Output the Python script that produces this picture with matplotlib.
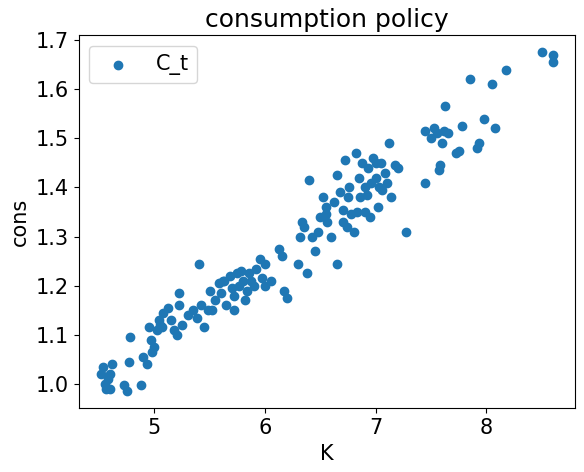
import matplotlib
matplotlib.use("Agg")
import matplotlib.pyplot as plt

# capital stock K and consumption C_t
K = [4.52, 4.53, 4.55, 4.56, 4.58, 4.60, 4.62, 4.60, 4.72, 4.75, 4.77, 4.78, 4.88, 4.90,
     4.93, 4.95, 4.97, 4.98, 5.00, 5.02, 5.04, 5.05, 5.07, 5.08, 5.12, 5.15, 5.18, 5.20,
     5.22, 5.22, 5.25, 5.30, 5.35, 5.38, 5.40, 5.42, 5.45, 5.48, 5.52, 5.55, 5.58, 5.60,
     5.63, 5.65, 5.68, 5.70, 5.72, 5.72, 5.75, 5.76, 5.78, 5.80, 5.82, 5.84, 5.87, 5.90,
     5.92, 5.95, 5.97, 6.00, 6.00, 6.13, 6.15, 6.17, 6.20, 6.30, 6.32, 6.33, 6.35, 6.38,
     6.40, 6.42, 6.45, 6.48, 6.50, 6.52, 6.55, 6.56, 6.60, 6.62, 6.65, 6.65, 6.68, 6.70,
     6.72, 6.74, 6.76, 6.78, 6.80, 6.82, 6.83, 6.85, 6.86, 6.88, 6.90, 6.92, 6.93, 6.95,
     6.96, 6.98, 7.00, 7.02, 7.03, 7.05, 7.06, 7.08, 7.10, 7.12, 7.14, 7.17, 7.20, 7.27,
     7.45, 7.45, 7.50, 7.53, 7.55, 7.57, 7.58, 7.60, 7.62, 7.63, 7.65, 7.73, 7.75, 7.78,
     7.85, 7.92, 7.93, 7.98, 8.05, 8.08, 8.18, 8.50, 8.60, 8.60,
     5.62, 5.50, 6.70, 6.75, 7.00, 5.85, 6.05, 6.55, 6.90]
cons = [1.020, 1.035, 1.000, 0.990, 1.010, 1.020, 1.040, 0.990, 0.998, 0.985, 1.045, 1.095,
        0.998, 1.055, 1.040, 1.115, 1.090, 1.065, 1.075, 1.110, 1.130, 1.120, 1.115, 1.145,
        1.155, 1.130, 1.110, 1.100, 1.160, 1.185, 1.120, 1.140, 1.150, 1.135, 1.245, 1.160,
        1.115, 1.150, 1.150, 1.170, 1.205, 1.185, 1.210, 1.160, 1.220, 1.195, 1.180, 1.150,
        1.225, 1.200, 1.230, 1.210, 1.170, 1.190, 1.210, 1.200, 1.235, 1.255, 1.215, 1.245,
        1.200, 1.275, 1.260, 1.190, 1.175, 1.245, 1.300, 1.330, 1.320, 1.225, 1.415, 1.300,
        1.270, 1.310, 1.340, 1.380, 1.360, 1.330, 1.300, 1.370, 1.245, 1.425, 1.390, 1.330,
        1.455, 1.320, 1.400, 1.345, 1.310, 1.470, 1.350, 1.420, 1.380, 1.450, 1.400, 1.385,
        1.440, 1.340, 1.410, 1.460, 1.420, 1.360, 1.400, 1.450, 1.395, 1.430, 1.410, 1.490,
        1.380, 1.445, 1.440, 1.310, 1.410, 1.515, 1.500, 1.520, 1.510, 1.435, 1.445, 1.490,
        1.515, 1.565, 1.510, 1.470, 1.475, 1.525, 1.620, 1.480, 1.490, 1.540, 1.610, 1.520,
        1.640, 1.675, 1.670, 1.655,
        1.210, 1.190, 1.355, 1.380, 1.450, 1.225, 1.210, 1.345, 1.350]

plt.rcParams["font.size"] = 15
fig, ax = plt.subplots(figsize=(5.84, 4.72), dpi=100)
ax.scatter(K, cons, color="#1f77b4", label="C_t")
ax.set_title("consumption policy", fontsize=18)
ax.set_xlabel("K")
ax.set_ylabel("cons")
ax.set_yticks([1.0, 1.1, 1.2, 1.3, 1.4, 1.5, 1.6, 1.7])
ax.legend(loc="upper left")
fig.subplots_adjust(left=0.135, right=0.985, bottom=0.135, top=0.925)
fig.savefig("out.png")
